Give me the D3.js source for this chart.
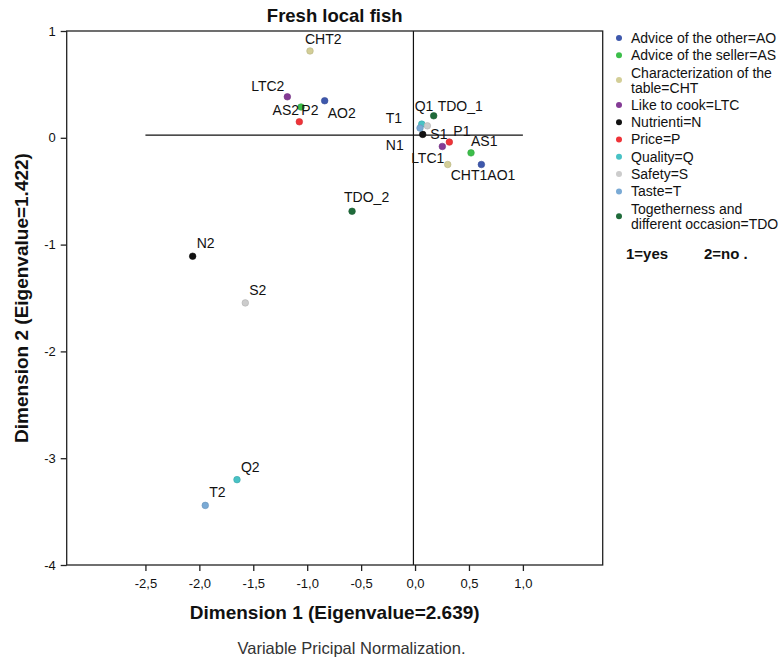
<!DOCTYPE html>
<html>
<head>
<meta charset="utf-8">
<script src="https://cdn.jsdelivr.net/npm/d3@7"></script>
<style>
  body { margin: 0; background: #fff; }
  text { font-family: "Liberation Sans", Arial, sans-serif; fill: #111; }
</style>
</head>
<body>
<div id="chart"></div>
<script>
// categories (legend order) and their quantifications for level 1 (=yes) and 2 (=no)
const categories = ["AO", "AS", "CHT", "LTC", "N", "P", "Q", "S", "T", "TDO"]
const legendText = [
    ["Advice of the other=AO"],
    ["Advice of the seller=AS"],
    ["Characterization of the", "table=CHT"],
    ["Like to cook=LTC"],
    ["Nutrienti=N"],
    ["Price=P"],
    ["Quality=Q"],
    ["Safety=S"],
    ["Taste=T"],
    ["Togetherness and", "different occasion=TDO"]
]
const labels1 = ["AO1", "AS1", "CHT1", "LTC1", "N1", "P1", "Q1", "S1", "T1", "TDO_1"]
const labels2 = ["AO2", "AS2", "CHT2", "LTC2", "N2", "P2", "Q2", "S2", "T2", "TDO_2"]
const dim1Level1 = [0.615, 0.519, 0.303, 0.253, 0.071, 0.318, 0.062, 0.114, 0.046, 0.173]
const dim2Level1 = [-0.250, -0.141, -0.250, -0.081, 0.032, -0.040, 0.128, 0.112, 0.091, 0.206]
const dim1Level2 = [-0.838, -1.057, -0.974, -1.184, -2.062, -1.073, -1.651, -1.574, -1.945, -0.584]
const dim2Level2 = [0.347, 0.288, 0.813, 0.384, -1.109, 0.150, -3.201, -1.546, -3.442, -0.688]
const xTicks = [-2.5, -2, -1.5, -1, -0.5, 0, 0.5, 1]
const yTicks = [1, 0, -1, -2, -3, -4]

const colors = ["#3E58AC", "#3CBE4A", "#D3CE97", "#843B95", "#111111",
                "#EF3338", "#48C2C5", "#CCCCCC", "#7AAAD5", "#1F6B3A"]

// where each point label sits relative to its point: [dx, dy, anchor]
const labelPos = {
    AO1: [6, 15, "start"], AS1: [0, -7, "start"], CHT1: [3, 15, "start"],
    LTC1: [2, 17, "end"], N1: [-19, 16, "end"], P1: [4, -6, "start"],
    Q1: [-7, -13, "start"], S1: [3, 13, "start"], T1: [-18, -5, "end"],
    TDO_1: [4, -5, "start"],
    AO2: [3, 17, "start"], AS2: [-2, 8, "end"], CHT2: [-5, -7, "start"],
    LTC2: [-3, -6, "end"], P2: [2, -7, "start"], TDO_2: [-8, -9, "start"]
}

const width = 783
const height = 663
const plot = { left: 66.7, right: 602.7, top: 31, bottom: 565 }

const svg = d3.select("#chart")
    .append("svg")
    .attr("width", width)
    .attr("height", height)

const x = d3.scaleLinear().domain([-3.23, 1.74]).range([plot.left, plot.right])
const y = d3.scaleLinear().domain([-4, 1]).range([plot.bottom, plot.top])

const comma = v => d3.format(".1f")(v).replace(".", ",").replace("−", "-")

// axes
const xAxis = svg.append("g")
    .attr("transform", `translate(0,${plot.bottom})`)
    .call(d3.axisBottom(x).tickValues(xTicks).tickFormat(comma).tickSize(6).tickPadding(8))
const yAxis = svg.append("g")
    .attr("transform", `translate(${plot.left},0)`)
    .call(d3.axisLeft(y).tickValues(yTicks).tickFormat(v => String(v)).tickSize(6).tickPadding(5))
for (const g of [xAxis, yAxis]) {
    g.select(".domain").remove()
    g.selectAll(".tick line").attr("stroke", "#222").attr("stroke-width", 1.3)
    g.selectAll(".tick text")
        .style("font-family", "'Liberation Sans', Arial, sans-serif")
        .style("font-size", "13px")
        .attr("fill", "#111")
}

// reference lines
svg.append("line")
    .attr("x1", x(-2.5)).attr("x2", x(1.0))
    .attr("y1", y(0.025)).attr("y2", y(0.025))
    .attr("stroke", "#111").attr("stroke-width", 1.2)
svg.append("line")
    .attr("x1", x(-0.015)).attr("x2", x(-0.015))
    .attr("y1", plot.top).attr("y2", plot.bottom)
    .attr("stroke", "#111").attr("stroke-width", 1.2)

// frame
svg.append("rect")
    .attr("x", plot.left).attr("y", plot.top)
    .attr("width", plot.right - plot.left).attr("height", plot.bottom - plot.top)
    .attr("fill", "none").attr("stroke", "#222").attr("stroke-width", 1.3)

// points
const points = []
categories.forEach((c, i) => {
    points.push({ label: labels1[i], d1: dim1Level1[i], d2: dim2Level1[i], color: colors[i] })
    points.push({ label: labels2[i], d1: dim1Level2[i], d2: dim2Level2[i], color: colors[i] })
})

svg.append("g").selectAll("circle")
    .data(points)
    .join("circle")
    .attr("cx", d => x(d.d1))
    .attr("cy", d => y(d.d2))
    .attr("r", 3.3)
    .attr("fill", d => d.color)
    .attr("stroke", d => d3.color(d.color).darker(0.4))
    .attr("stroke-width", 0.6)

svg.append("g").selectAll("text")
    .data(points)
    .join("text")
    .attr("x", d => x(d.d1) + (labelPos[d.label] || [4, -8])[0])
    .attr("y", d => y(d.d2) + (labelPos[d.label] || [4, -8])[1])
    .attr("text-anchor", d => (labelPos[d.label] || [4, -8, "start"])[2])
    .style("font-size", "14px")
    .text(d => d.label)

// titles
svg.append("text")
    .attr("x", (plot.left + plot.right) / 2).attr("y", 22)
    .attr("text-anchor", "middle")
    .style("font-size", "18.5px").style("font-weight", "bold")
    .text("Fresh local fish")
svg.append("text")
    .attr("x", (plot.left + plot.right) / 2).attr("y", 619)
    .attr("text-anchor", "middle")
    .style("font-size", "19px").style("font-weight", "bold")
    .text("Dimension 1 (Eigenvalue=2.639)")
svg.append("text")
    .attr("transform", `translate(28,${(plot.top + plot.bottom) / 2}) rotate(-90)`)
    .attr("text-anchor", "middle")
    .style("font-size", "19px").style("font-weight", "bold")
    .text("Dimension 2 (Eigenvalue=1.422)")
svg.append("text")
    .attr("x", 351.5).attr("y", 654)
    .attr("text-anchor", "middle")
    .style("font-size", "16.5px").style("fill", "#333")
    .text("Variable Pricipal Normalization.")

// legend
const legend = svg.append("g")
let cursor = 38
categories.forEach((c, i) => {
    const lines = legendText[i]
    const mid = cursor + (lines.length - 1) * 15 / 2
    legend.append("circle")
        .attr("cx", 619).attr("cy", mid).attr("r", 3)
        .attr("fill", colors[i])
    lines.forEach((l, j) => {
        legend.append("text")
            .attr("x", 631).attr("y", cursor + j * 15)
            .attr("dy", "0.35em")
            .style("font-size", "14px")
            .text(l)
    })
    cursor += lines.length * 15 + 2.3
})

svg.append("text")
    .attr("x", 626).attr("y", 259)
    .style("font-size", "15px").style("font-weight", "bold")
    .text("1=yes")
svg.append("text")
    .attr("x", 704).attr("y", 259)
    .style("font-size", "15px").style("font-weight", "bold")
    .text("2=no .")
</script>
</body>
</html>
